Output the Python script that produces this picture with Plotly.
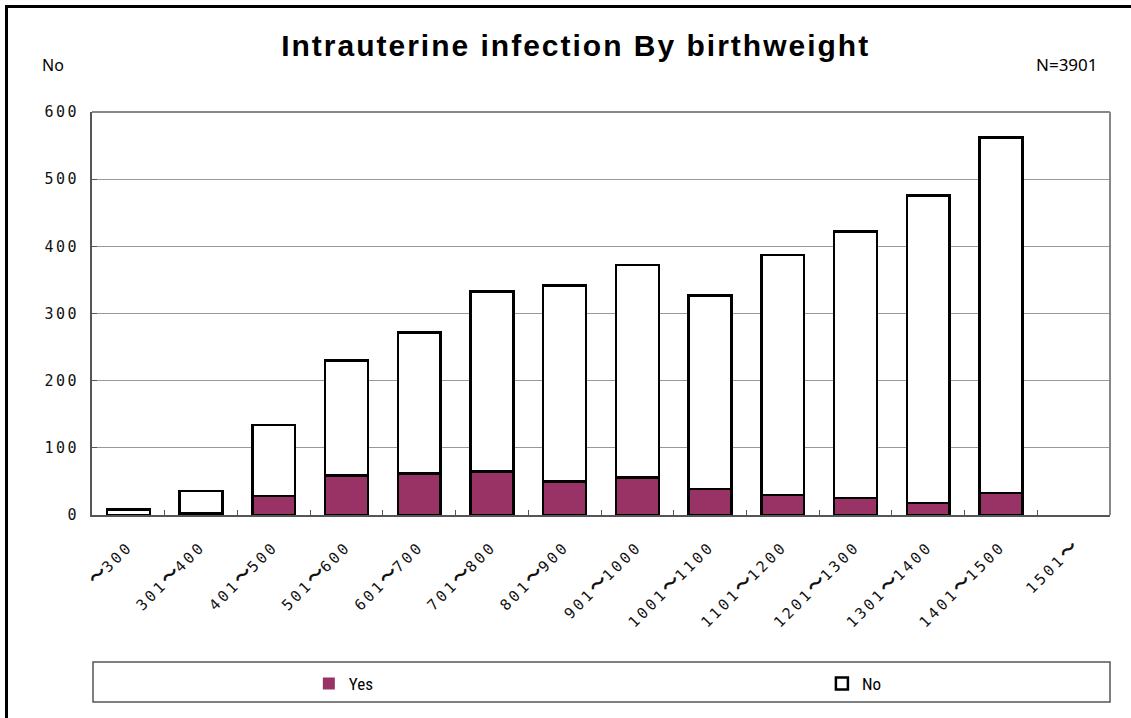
import plotly.graph_objects as go

categories = ["～300", "301～400", "401～500", "501～600", "601～700", "701～800",
              "801～900", "901～1000", "1001～1100", "1101～1200", "1201～1300",
              "1301～1400", "1401～1500", "1501～"]
yes_values = [0, 3, 28, 59, 62, 65, 50, 56, 39, 30, 25, 18, 33, 0]
no_values = [8, 33, 106, 171, 210, 268, 292, 316, 288, 357, 397, 458, 529, 0]
y_ticks = [0, 100, 200, 300, 400, 500, 600]

mono = "DejaVu Sans Mono, Noto Sans CJK JP, monospace"
tick_font = dict(family=mono, size=15, color="#111")


def spaced(s):
    parts = s.split("～")
    out = []
    for i, p in enumerate(parts):
        if p:
            out.append('<span style="letter-spacing:3px">' + p + '</span>')
        if i < len(parts) - 1:
            out.append("<span style=\"font-family:'Noto Sans CJK JP';font-weight:bold;font-size:18px\">～</span>")
    return "".join(out)


x_ticktext = [spaced(c) for c in categories]
y_ticktext = ['<span style="letter-spacing:2.5px">%d</span>' % v for v in y_ticks]

yes_lw = [2.5 if v > 0 else 0 for v in yes_values]
no_lw = [2.5 if v > 0 else 0 for v in no_values]

fig = go.Figure()
fig.add_trace(go.Bar(
    x=categories, y=yes_values, name="Yes",
    marker=dict(color="#993366", line=dict(color="black", width=yes_lw)),
    legend="legend",
))
fig.add_trace(go.Bar(
    x=categories, y=no_values, name="No",
    marker=dict(color="white", line=dict(color="black", width=no_lw)),
    legend="legend2",
))

leg_font = dict(family="Liberation Sans Narrow, Arial Narrow, Roboto Condensed, sans-serif", size=17, color="black")

fig.update_layout(
    barmode="stack",
    bargap=0.41,
    width=1131, height=718,
    margin=dict(l=92, r=21, t=112, b=203),
    paper_bgcolor="white",
    plot_bgcolor="white",
    showlegend=True,
    legend=dict(orientation="h", x=0.213, xanchor="left", y=-0.419, yanchor="middle",
                font=leg_font, bgcolor="rgba(0,0,0,0)", borderwidth=0),
    legend2=dict(orientation="h", x=0.717, xanchor="left", y=-0.419, yanchor="middle",
                 font=leg_font, bgcolor="rgba(0,0,0,0)", borderwidth=0),
    title=dict(text='<b><span style="letter-spacing:2px">Intrauterine infection By birthweight</span></b>',
               x=0.509, xanchor="center", y=0.937, yanchor="middle",
               font=dict(family="Liberation Sans, Arial, sans-serif", size=30, color="black")),
    xaxis=dict(
        type="category", tickangle=-45, tickfont=tick_font,
        tickvals=categories, ticktext=x_ticktext,
        ticks="inside", tickson="boundaries", ticklen=5, tickcolor="#555",
        ticklabelstandoff=15, ticklabelshift=0,
        showline=True, linecolor="#555", linewidth=2, mirror=False,
        showgrid=False,
    ),
    yaxis=dict(
        range=[0, 600], tickvals=y_ticks, ticktext=y_ticktext, tickfont=tick_font,
        ticks="inside", ticklen=5, tickcolor="#555",
        showline=True, linecolor="#555", linewidth=2,
        showgrid=True, gridcolor="#999", gridwidth=1,
        ticklabelstandoff=8,
        zeroline=False,
    ),
    shapes=[
        dict(type="line", xref="paper", yref="paper", x0=0, x1=1, y0=1, y1=1,
             line=dict(color="#888", width=2)),
        dict(type="line", xref="paper", yref="paper", x0=1, x1=1, y0=0, y1=1,
             line=dict(color="#888", width=2)),
        dict(type="rect", xref="paper", yref="paper", x0=0.001, x1=1.0,
             y0=(515 - 702) / 403, y1=(515 - 662) / 403,
             line=dict(color="#555", width=1.5), fillcolor="rgba(0,0,0,0)", layer="below"),
        dict(type="line", xref="paper", yref="paper",
             x0=(6.5 - 92) / 1018, x1=(6.5 - 92) / 1018, y0=(515 - 730) / 403, y1=(515 - 6) / 403,
             line=dict(color="black", width=3)),
        dict(type="line", xref="paper", yref="paper",
             x0=(5 - 92) / 1018, x1=(1140 - 92) / 1018, y0=(515 - 6.5) / 403, y1=(515 - 6.5) / 403,
             line=dict(color="black", width=3)),
    ],
    annotations=[
        dict(text="No", xref="paper", yref="paper", x=(40 - 92) / 1018, y=(515 - 65) / 403,
             xanchor="left", yanchor="middle", showarrow=False,
             font=dict(family="Noto Sans, sans-serif", size=16, color="black")),
        dict(text="N=3901", xref="paper", yref="paper", x=(1100 - 92) / 1018, y=(515 - 65) / 403,
             xanchor="right", yanchor="middle", showarrow=False,
             font=dict(family="Noto Sans, sans-serif", size=17, color="black")),
    ],
)

fig.write_html("out.html", post_script="document.body.style.margin='0';",
               config={"displayModeBar": False})
